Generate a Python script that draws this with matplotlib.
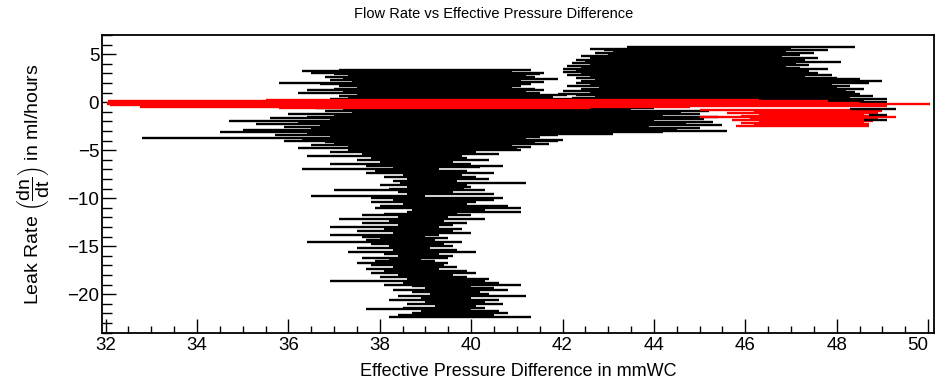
import matplotlib
matplotlib.use("Agg")
import matplotlib.pyplot as plt
from matplotlib.ticker import MultipleLocator

# ---- data: horizontal error-bar segments (y, x_low, x_high) ----
upper_y = [3.35, 3.2, 3.05, 2.9, 2.75, 2.6, 2.45, 2.3, 2.15, 2.0, 1.85, 1.7, 1.55, 1.4, 1.25, 1.1, 0.95,
           0.8, 0.65, 0.5, 0.35, 0.2, 0.05,
           -0.6, -0.75, -0.9, -1.05, -1.2, -1.35, -1.5, -1.65, -1.8, -1.95, -2.1, -2.25, -2.4, -2.55,
           -2.7, -2.85, -3.0, -3.15, -3.3, -3.45, -3.6, -3.75, -3.9, -4.05, -4.2, -4.35, -4.5, -4.65, -4.8]
upper_lo = [37.1, 36.3, 36.5, 37.0, 37.3, 36.8, 37.2, 36.9, 37.4, 35.8, 36.7, 37.1, 37.5, 37.0, 36.4, 37.2, 36.2,
            37.5, 37.1, 37.3, 36.9, 37.6, 37.0,
            36.6, 37.2, 36.8, 37.4, 36.0, 37.0, 36.4, 35.6, 36.9, 34.7, 36.2, 35.3, 36.7, 35.9,
            36.5, 35.0, 36.1, 34.5, 36.4, 35.7, 36.9, 32.8, 36.3, 35.9, 36.8, 37.0, 36.5, 37.3, 36.2]
upper_hi = [41.3, 40.9, 41.6, 41.5, 41.2, 41.4, 41.9, 41.1, 41.6, 41.0, 41.3, 41.1, 40.9, 41.4, 41.6, 41.2, 41.5,
            42.1, 41.4, 41.8, 42.3, 41.5, 42.0,
            44.0, 43.5, 45.2, 44.6, 45.0, 44.2, 45.4, 44.8, 45.1, 44.0, 45.3, 44.7, 45.5, 43.9,
            45.0, 44.5, 45.6, 44.2, 43.1, 41.9, 41.5, 41.2, 42.0, 41.9, 41.4, 41.7, 40.9, 41.3, 41.0]

right_y = [5.7, 5.55, 5.4, 5.25, 5.1, 4.95, 4.8, 4.65, 4.5, 4.35, 4.2, 4.05, 3.9, 3.75, 3.6, 3.45, 3.3,
           3.15, 3.0, 2.85, 2.7, 2.55, 2.4, 2.25, 2.1, 1.95, 1.8, 1.65, 1.5, 1.35, 1.2, 1.05, 0.9,
           0.75, 0.6, 0.45, 0.3, 0.15, 0.0]
right_lo = [43.4, 42.6, 42.9, 43.1, 42.7, 43.0, 42.4, 42.6, 42.8, 42.3, 42.5, 42.2, 42.6, 42.1, 42.4, 42.0, 42.3,
            42.0, 42.4, 42.1, 42.6, 42.3, 42.7, 42.4, 42.9, 42.3, 42.6, 42.1, 42.8, 42.4, 42.0, 42.6, 41.9,
            42.3, 42.7, 42.2, 42.5, 42.0, 42.4]
right_hi = [48.4, 47.0, 47.8, 46.9, 47.5, 47.2, 46.8, 47.6, 47.0, 47.3, 48.1, 47.1, 47.4, 46.9, 47.2, 47.8, 47.4,
            47.0, 47.6, 47.9, 47.3, 48.0, 48.5, 49.0, 48.2, 48.7, 47.9, 48.3, 48.0, 48.6, 48.2, 48.4, 48.5,
            48.1, 48.8, 48.3, 49.1, 48.6, 49.1]

tail_y = [-5.0, -5.2, -5.4, -5.6, -5.8, -6.0, -6.2, -6.4, -6.6, -6.8, -7.0, -7.2, -7.4, -7.6, -7.8, -8.0,
          -8.2, -8.4, -8.6, -8.8, -9.0, -9.2, -9.4, -9.6, -9.8, -10.0, -10.2, -10.4, -10.6, -10.8, -11.0,
          -11.2, -11.4, -11.6, -11.8, -12.0, -12.2, -12.4, -12.6, -12.8, -13.0, -13.2, -13.4, -13.6, -13.8,
          -14.0, -14.2, -14.4, -14.6, -14.8, -15.0, -15.2, -15.4, -15.6, -15.8, -16.0, -16.2, -16.4, -16.6,
          -16.8, -17.0, -17.2, -17.4, -17.6, -17.8, -18.0, -18.2, -18.4, -18.6, -18.8, -19.0, -19.2, -19.4,
          -19.6, -19.8, -20.0, -20.2, -20.4, -20.6, -20.8, -21.0, -21.2, -21.4, -21.6, -21.8, -22.0, -22.2, -22.4]
tail_lo = [37.3, 36.9, 37.6, 36.4, 37.8, 37.5, 38.0, 36.9, 37.7, 38.3, 36.3, 37.9, 37.7, 38.5, 38.1, 38.6,
           38.3, 38.45, 38.0, 38.6, 38.2, 37.0, 38.4, 38.6, 36.5, 37.8, 38.3, 37.8, 38.5, 38.0, 37.9,
           38.7, 38.6, 38.1, 37.6, 38.4, 37.1, 38.2, 37.6, 38.4, 36.9, 38.1, 37.5, 38.3, 36.9,
           37.6, 38.0, 37.7, 36.4, 37.8, 38.2, 37.5, 38.3, 37.3, 38.1, 38.4, 37.6, 38.2, 37.9,
           37.5, 37.8, 38.3, 37.7, 38.1, 37.8, 38.4, 38.0, 38.6, 36.9, 38.5, 38.1, 38.7, 39.0,
           38.3, 38.7, 39.1, 38.4, 38.9, 38.2, 39.0, 38.6, 39.2, 38.5, 37.7, 38.9, 38.7, 38.4, 38.2]
tail_hi = [41.1, 40.1, 40.6, 39.8, 39.9, 40.4, 39.6, 40.0, 40.7, 40.2, 39.3, 39.9, 40.5, 39.8, 40.1, 40.4,
           39.7, 41.2, 39.9, 40.0, 39.85, 40.3, 39.6, 40.5, 39.0, 40.7, 40.5, 40.1, 39.9, 40.8, 41.1,
           40.3, 41.1, 39.7, 40.0, 39.5, 40.3, 39.4, 39.9, 39.6, 39.3, 39.8, 39.6, 40.0, 39.3,
           39.0, 39.5, 39.2, 39.8, 39.4, 39.6, 39.1, 39.7, 40.1, 39.3, 39.6, 39.5, 38.9, 39.2,
           39.5, 39.4, 39.7, 39.3, 39.9, 40.1, 39.6, 39.9, 40.4, 40.3, 40.6, 41.1, 40.0, 40.5,
           40.8, 40.2, 40.4, 41.2, 40.0, 40.6, 40.3, 40.7, 40.1, 40.3, 40.0, 40.6, 40.8, 40.5, 41.3]

red_y = [0.2, 0.1, -0.05, -0.14, -0.25, -0.38, -0.55, -0.65,
         -0.8, -0.95, -1.1, -1.25, -1.4, -1.55, -1.7, -1.85, -2.0, -2.15, -2.3, -2.45]
red_lo = [35.5, 32.05, 32.02, 32.02, 32.1, 34.4, 32.75, 35.8,
          45.0, 46.2, 45.6, 46.3, 45.9, 45.0, 46.1, 45.7, 46.3, 45.9, 46.2, 45.8]
red_hi = [46.3, 47.8, 48.5, 50.05, 46.9, 49.1, 44.8, 42.6,
          48.8, 49.0, 48.9, 48.6, 48.7, 49.3, 48.9, 48.7, 48.8, 48.6, 48.7, 48.7]

over_y = [-0.66, -1.35, -1.9]
over_lo = [48.3, 48.7, 48.6]
over_hi = [49.3, 49.1, 49.1]

x_ticks = [32, 34, 36, 38, 40, 42, 44, 46, 48, 50]
y_ticks = [5, 0, -5, -10, -15, -20]

# ---- styling ----
plt.rcParams['font.family'] = ['Liberation Sans', 'DejaVu Sans']
plt.rcParams['mathtext.fontset'] = 'custom'
plt.rcParams['mathtext.rm'] = 'Liberation Sans'
plt.rcParams['mathtext.it'] = 'Liberation Sans'
plt.rcParams['mathtext.bf'] = 'Liberation Sans:bold'

fig = plt.figure(figsize=(9.36, 3.88), dpi=100)
ax = fig.add_axes([102 / 936, 1 - 333 / 388, (934 - 102) / 936, (333 - 35) / 388])

lw = 1.7
ax.hlines(upper_y, upper_lo, upper_hi, colors='black', linewidth=lw, capstyle='butt')
ax.hlines(right_y, right_lo, right_hi, colors='black', linewidth=lw, capstyle='butt')
ax.hlines(tail_y, tail_lo, tail_hi, colors='black', linewidth=lw, capstyle='butt')
ax.hlines(red_y, red_lo, red_hi, colors='#ff0000', linewidth=lw, capstyle='butt')
ax.hlines(over_y, over_lo, over_hi, colors='black', linewidth=lw, capstyle='butt')

ax.set_xlim(31.92, 50.13)
ax.set_ylim(-24.05, 7.0)

ax.set_xticks(x_ticks)
ax.set_yticks(y_ticks)
ax.xaxis.set_minor_locator(MultipleLocator(0.5))
ax.yaxis.set_minor_locator(MultipleLocator(1))
ax.tick_params(axis='both', which='both', direction='in', top=False, right=False)
ax.tick_params(axis='x', which='major', length=10, width=1.0, labelsize=13.5, pad=3)
ax.tick_params(axis='x', which='minor', length=5, width=1.0)
ax.tick_params(axis='y', which='major', length=10, width=1.0, labelsize=13.5, pad=2)
ax.tick_params(axis='y', which='minor', length=7, width=1.0)

ax.set_xticklabels([str(v) for v in x_ticks])
ax.set_yticklabels([str(v).replace('-', '\u2212') for v in y_ticks])
# keep the last x label inside the figure, as in the reference
ax.get_xticklabels()[-1].set_horizontalalignment('right')
ax.get_xticklabels()[-1].set_x(50.13)

for s in ax.spines.values():
    s.set_linewidth(1.3)

ax.set_xlabel('Effective Pressure Difference in mmWC', fontsize=13, labelpad=6)
ax.set_ylabel(r'Leak Rate $\left(\dfrac{dn}{dt}\right)$ in ml/hours', fontsize=14, labelpad=11)
fig.text(0.527, 0.963, 'Flow Rate vs Effective Pressure Difference', fontsize=10.5,
         ha='center', va='center')

fig.savefig('out.png', dpi=100)
